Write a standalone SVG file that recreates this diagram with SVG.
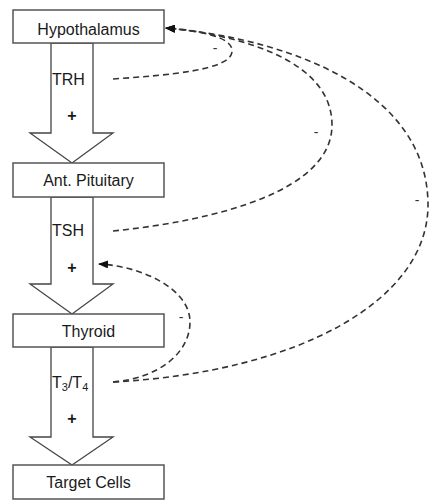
<svg xmlns="http://www.w3.org/2000/svg" width="436" height="501" viewBox="0 0 436 501">
<style>
.box{fill:#fff;stroke:#555;stroke-width:1.5}
.arr{fill:#fff;stroke:#444;stroke-width:1.3}
.t{font-family:"Liberation Sans",Arial,sans-serif;font-size:16px;fill:#1a1a1a}
.c{text-anchor:middle}
.plus{font-family:"Liberation Sans",Arial,sans-serif;font-size:16px;font-weight:bold;fill:#1a1a1a;text-anchor:middle}
.fb{fill:none;stroke:#333;stroke-width:1.6;stroke-dasharray:6 4}
.neg{font-family:"Liberation Sans",Arial,sans-serif;font-size:14px;fill:#333;text-anchor:middle}
</style>
<defs>
<marker id="ah" markerWidth="10" markerHeight="8" refX="9" refY="4" orient="auto" markerUnits="userSpaceOnUse">
<path d="M0,0 L10,4 L0,8 Z" fill="#111"/>
</marker>
</defs>
<rect width="436" height="501" fill="#fff"/>
<g id="arrows">
<polygon class="arr" points="51,43 93,43 93,133 113,133 72,163 30,133 51,133"/>
<polygon class="arr" points="51,197 93,197 93,284 113,284 72,314 30,284 51,284"/>
<polygon class="arr" points="51,347 93,347 93,437 113,437 72,465 30,437 51,437"/>
<text class="t" x="52" y="85">TRH</text>
<text class="plus" x="72" y="121">+</text>
<text class="t" x="52" y="236">TSH</text>
<text class="plus" x="72" y="273">+</text>
<text class="t" x="52" y="388">T<tspan font-size="11" dy="3">3</tspan><tspan dy="-3">/T</tspan><tspan font-size="11" dy="3">4</tspan></text>
<text class="plus" x="72" y="424">+</text>
</g>
<g id="hypothalamus">
<rect class="box" x="13" y="10" width="151" height="33"/>
<text class="t c" x="88.5" y="35">Hypothalamus</text>
</g>
<g id="ant-pituitary">
<rect class="box" x="13" y="163" width="151" height="34"/>
<text class="t c" x="88.5" y="186">Ant. Pituitary</text>
</g>
<g id="thyroid">
<rect class="box" x="13" y="314" width="151" height="33"/>
<text class="t c" x="88.5" y="337">Thyroid</text>
</g>
<g id="target-cells">
<rect class="box" x="13" y="465" width="151" height="34"/>
<text class="t c" x="88.5" y="488">Target Cells</text>
</g>
<g id="connectors">
<path class="fb" d="M113,79 C170,75 230,70 232,52 C234,36 195,30 166,28" marker-end="url(#ah)"/>
<path class="fb" d="M113,231 C220,220 332,190 332,125 C332,60 240,35 166,28" marker-end="url(#ah)"/>
<path class="fb" d="M113,382 C300,372 428,300 428,205 C428,95 300,40 166,28" marker-end="url(#ah)"/>
<path class="fb" d="M113,382 C160,378 190,352 190,322 C190,288 140,266 99,264" marker-end="url(#ah)"/>
<text class="neg" x="215" y="53">-</text>
<text class="neg" x="316" y="137">-</text>
<text class="neg" x="417" y="205">-</text>
<text class="neg" x="181" y="322">-</text>
</g>
</svg>
